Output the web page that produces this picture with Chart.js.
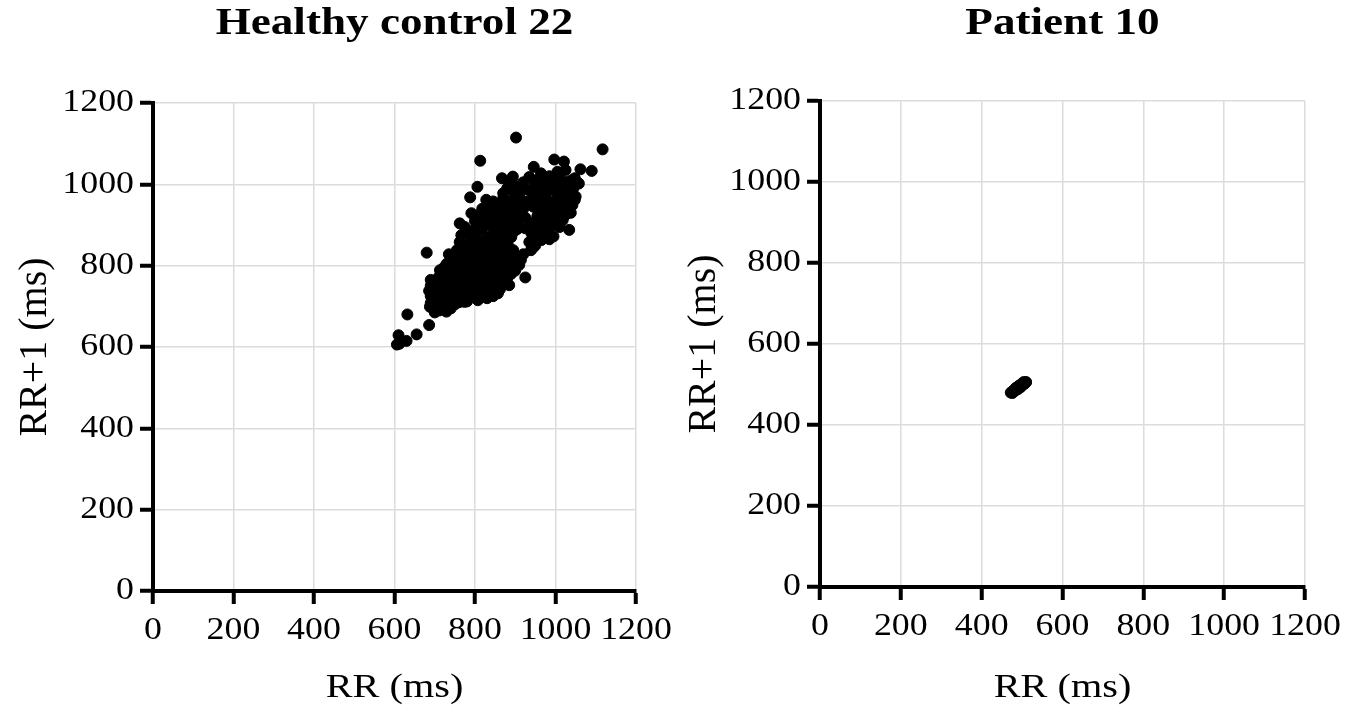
<!DOCTYPE html>
<html>
<head>
<meta charset="utf-8">
<script src="https://cdn.jsdelivr.net/npm/chart.js@4.4.1/dist/chart.umd.min.js"></script>
<style>
    html, body { margin: 0; padding: 0; background: #fff; }
    #wrap { position: relative; width: 1350px; height: 709px; }
    canvas { position: absolute; top: 0; }
    #healthyChart { left: 0; }
    #patientChart { left: 675px; }
</style>
</head>
<body>
<div id="wrap">
    <canvas id="healthyChart" width="675" height="709"></canvas>
    <canvas id="patientChart" width="675" height="709"></canvas>
</div>
<script>
// axis ticks shared by both panels (ms)
const axisTicks = [0, 200, 400, 600, 800, 1000, 1200];

// Healthy control 22: RR(n) and RR(n+1)
const healthyRR = [
    902, 1117, 997, 813, 1021, 946, 1062, 1090, 1025, 1005, 964, 894, 867,
    935, 958, 985, 1010, 1040, 1055, 920, 948, 975, 1000, 1030, 906, 806, 1058,
    880, 925, 940, 962, 990, 1015, 1045, 870, 900, 955, 1005, 1035, 1050,
    788, 828, 845, 870, 890, 915, 935, 978, 995, 1020, 1042, 860, 905, 960, 985, 1012, 1030,
    791, 818, 835, 852, 875, 895, 920, 965, 1000, 1020, 1038, 840, 870, 905, 985, 1012,
    762, 800, 815, 830, 850, 868, 885, 905, 950, 970, 990, 1001, 1018, 820, 860, 890, 940, 965, 985,
    766, 785, 800, 815, 835, 850, 875, 895, 940, 955, 975, 995, 1034, 790, 825, 860, 880, 965,
    680, 762, 775, 795, 810, 830, 845, 865, 885, 895, 939, 950, 935, 755, 780, 820, 860,
    735, 750, 765, 785, 800, 815, 840, 855, 875, 900, 914, 920, 745, 770, 830, 870, 890,
    713, 725, 740, 758, 775, 790, 810, 825, 845, 860, 880, 900, 925, 720, 735, 765, 800, 835, 870, 890,
    690, 700, 715, 730, 748, 760, 780, 795, 815, 830, 850, 873, 885, 705, 740, 775, 810, 845, 865,
    686, 698, 712, 725, 740, 755, 770, 790, 805, 820, 840, 857, 695, 730, 760, 807, 774, 750,
    688, 700, 715, 729, 740, 712, 700, 632, 686, 655, 610, 606, 630, 612,
    885, 965, 1025, 1048,
    910, 978, 1025, 895,
    880, 925, 950, 1005, 1048,
    830, 850, 885, 945, 975, 1000,
    810, 830, 860, 890, 925, 955, 978, 1000, 1025,
    775, 805, 840, 875, 905, 925, 955, 980, 1010,
    805, 845, 870, 890, 945, 985,
    770, 790, 805, 840, 855, 875, 945,
    758, 775, 795, 810, 825, 845, 865, 885, 905,
    730, 750, 768, 785, 805, 820, 840, 855, 875, 895, 910,
    710, 725, 745, 760, 785, 805, 822, 840, 858, 880,
    690, 705, 720, 752, 768, 788, 802, 825, 848, 862,
    690, 705, 718, 735, 748, 765, 782, 798, 815, 830, 845,
    690, 705, 722, 735, 760, 780,
    695, 718
];
const healthyRRNext = [
    1115, 1086, 1061, 1058, 1056, 1043, 1037, 1033, 1035, 1031, 1027, 1019, 1015,
    1018, 1012, 1020, 1015, 1010, 1004, 1005, 998, 1003, 1000, 998, 995, 994, 1002,
    990, 988, 980, 986, 990, 985, 992, 978, 975, 970, 975, 978, 970,
    968, 962, 958, 965, 960, 962, 955, 962, 958, 965, 949, 950, 948, 952, 945, 950, 955,
    929, 940, 935, 942, 938, 932, 940, 930, 935, 940, 930, 925, 922, 928, 925, 922,
    904, 910, 918, 905, 912, 900, 915, 905, 910, 915, 905, 904, 912, 895, 890, 895, 898, 895, 890,
    875, 885, 878, 888, 872, 882, 875, 882, 880, 870, 878, 872, 888, 865, 862, 866, 860, 863,
    832, 858, 848, 852, 842, 850, 840, 852, 845, 838, 838, 850, 858, 838, 835, 835, 835,
    828, 815, 825, 820, 812, 826, 820, 810, 822, 815, 814, 828, 805, 808, 805, 805, 808,
    789, 798, 790, 800, 792, 785, 795, 782, 792, 785, 795, 788, 771, 778, 775, 780, 778, 775, 775, 780,
    765, 758, 768, 755, 765, 750, 760, 752, 765, 755, 762, 765, 752, 748, 745, 745, 748, 748, 750,
    738, 730, 740, 725, 735, 728, 738, 725, 735, 730, 740, 732, 718, 715, 718, 715, 711, 705,
    699, 708, 702, 687, 695, 690, 685, 680, 654, 631, 629, 606, 615, 608,
    1002, 1008, 1006, 1015,
    982, 980, 982, 985,
    955, 957, 962, 962, 962,
    948, 950, 945, 945, 950, 948,
    925, 928, 930, 922, 918, 922, 920, 918, 925,
    895, 898, 898, 888, 890, 892, 888, 885, 895,
    865, 870, 868, 870, 870, 865,
    842, 842, 852, 858, 845, 840, 845,
    832, 818, 828, 820, 815, 830, 818, 830, 822,
    805, 795, 800, 800, 805, 798, 800, 798, 800, 800, 802,
    772, 770, 775, 770, 770, 768, 775, 770, 775, 770,
    750, 740, 748, 742, 752, 742, 755, 745, 740, 742,
    725, 728, 720, 722, 728, 725, 722, 722, 722, 720, 725,
    708, 715, 708, 705, 710, 712,
    695, 695
];

// Patient 10: tight cluster around 500 ms
const patientRR = [
    472, 475, 478, 480, 483, 486, 488, 490, 493, 495, 497, 499, 501, 503,
    505, 507, 509, 510, 476, 482, 489, 496, 502, 506, 485, 492, 498, 504
];
const patientRRNext = [
    480, 482, 484, 486, 487, 489, 491, 492, 494, 495, 497, 498, 500, 501,
    503, 504, 505, 506, 479, 484, 488, 493, 499, 502, 492, 497, 501, 506
];

const fontFamily = "'Liberation Serif', 'Times New Roman', serif";
Chart.defaults.font.family = fontFamily;
Chart.defaults.color = '#000';

// the figure's lettering is wider than plain Times: horizontal stretch by font size
const titleSize = 37, xTitleSize = 33, yTitleSize = 40, tickSize = 32;
const stretchBySize = { 37: 1.22, 33: 1.22, 32: 1.12 };

function stretchText(ctx) {
    const fill = ctx.fillText.bind(ctx);
    ctx.fillText = function (text, x, y, maxWidth) {
        const m = ctx.getTransform();
        const size = parseFloat((ctx.font.match(/([\d.]+)px/) || [0, 0])[1]);
        const k = stretchBySize[size] || 1;
        if (k === 1 || Math.abs(m.b) > 1e-6) {   // rotated axis title stays as is
            fill(text, x, y, maxWidth);
            return;
        }
        const p = m.transformPoint(new DOMPoint(x, y));
        ctx.save();
        ctx.setTransform(new DOMMatrix().translate(p.x, p.y).scale(k, 1).translate(-p.x, -p.y).multiply(m));
        fill(text, x, y, maxWidth);
        ctx.restore();
    };
}

// bold title centred over the plot area, not over the whole canvas
const panelTitle = {
    id: 'panelTitle',
    afterDraw(chart, args, opts) {
        const { ctx, chartArea } = chart;
        ctx.save();
        ctx.font = 'bold ' + opts.size + 'px ' + fontFamily;
        ctx.fillStyle = '#000';
        ctx.textAlign = 'center';
        ctx.textBaseline = 'alphabetic';
        ctx.fillText(opts.text, (chartArea.left + chartArea.right) / 2, opts.baseline);
        ctx.restore();
    }
};

function toPoints(xs, ys) {
    return xs.map((x, i) => ({ x: x, y: ys[i] }));
}

// one Poincare panel; box keeps the plot area where the figure has it
function renderPoincare(canvasId, title, xs, ys, box) {
    const ctx = document.getElementById(canvasId).getContext('2d');
    stretchText(ctx);

    const axisBase = {
        type: 'linear',
        min: axisTicks[0],
        max: axisTicks[axisTicks.length - 1],
        afterBuildTicks: function (scale) {
            scale.ticks = axisTicks.map(v => ({ value: v }));
        },
        border: { color: '#000', width: 4 },
        grid: { color: '#dcdcdc', lineWidth: 1.5, tickColor: '#000', tickWidth: 4, tickLength: 13 }
    };

    return new Chart(ctx, {
        type: 'scatter',
        data: {
            datasets: [{
                label: title,
                data: toPoints(xs, ys),
                backgroundColor: '#000',
                borderColor: '#000',
                borderWidth: 1,
                pointRadius: 5.5,
                pointHoverRadius: 5.5
            }]
        },
        options: {
            responsive: false,
            animation: false,
            layout: { padding: { left: 0, right: box.right, top: box.top, bottom: 0 } },
            plugins: {
                legend: { display: false },
                tooltip: { enabled: false },
                title: { display: false },
                panelTitle: { text: title, size: titleSize, baseline: 34 }
            },
            scales: {
                x: Object.assign({}, axisBase, {
                    position: 'bottom',
                    afterFit: function (scale) { scale.height = box.bottom; },
                    ticks: { font: { size: tickSize }, padding: 7, maxRotation: 0, autoSkip: false, callback: v => String(v) },
                    title: { display: true, text: 'RR (ms)', font: { size: xTitleSize }, padding: { top: 0, bottom: 1 } }
                }),
                y: Object.assign({}, axisBase, {
                    position: 'left',
                    afterFit: function (scale) { scale.width = box.left; },
                    ticks: { font: { size: tickSize }, padding: 6, autoSkip: false, callback: v => String(v) },
                    title: { display: true, text: 'RR+1 (ms)', font: { size: yTitleSize }, padding: { top: box.yTitle, bottom: 0 } }
                })
            }
        },
        plugins: [panelTitle]
    });
}

renderPoincare('healthyChart', 'Healthy control 22', healthyRR, healthyRRNext,
    { left: 153, right: 36, top: 103, bottom: 118, yTitle: 11 });
renderPoincare('patientChart', 'Patient 10', patientRR, patientRRNext,
    { left: 145, right: 45, top: 101, bottom: 122, yTitle: 5 });
</script>
</body>
</html>
